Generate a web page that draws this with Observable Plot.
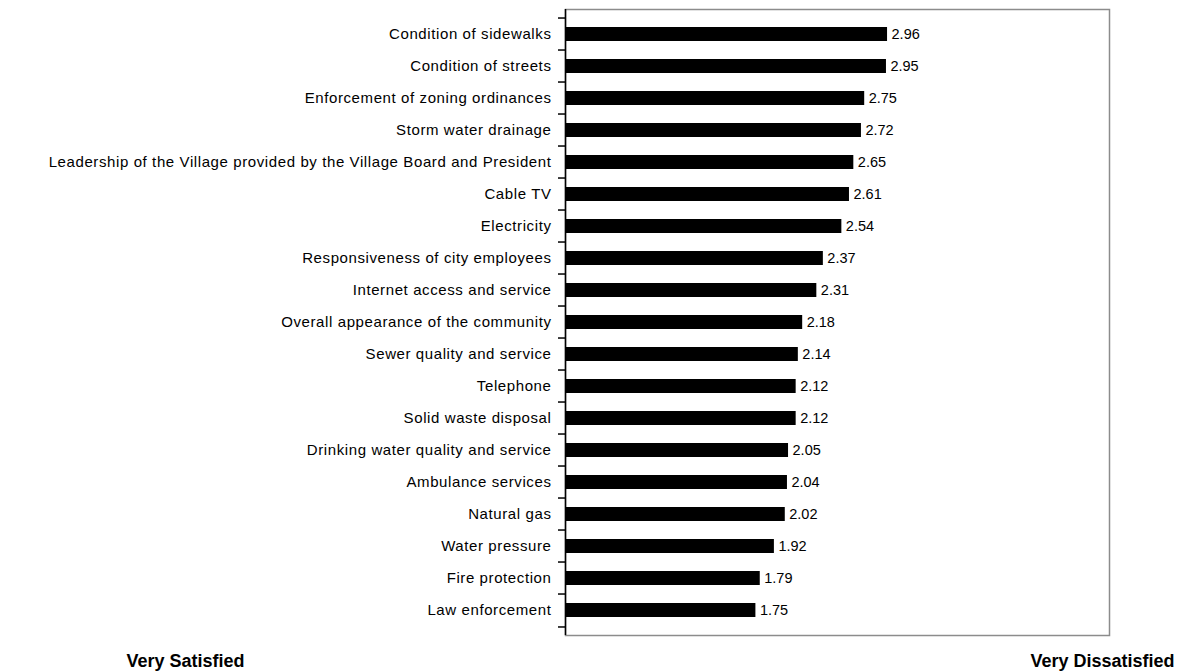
<!DOCTYPE html>
<html>
<head>
<meta charset="utf-8">
<script src="https://cdn.jsdelivr.net/npm/d3@7"></script>
<script src="https://cdn.jsdelivr.net/npm/@observablehq/plot@0.6"></script>
<style>
  html, body { margin: 0; padding: 0; background: #fff; }
  #chart svg { display: block; }
  #chart svg g[aria-label="y-axis tick label"] text { letter-spacing: 0.6px; }
</style>
</head>
<body>
<div id="chart"></div>
<script>
const categories = [
  "Condition of sidewalks",
  "Condition of streets",
  "Enforcement of zoning ordinances",
  "Storm water drainage",
  "Leadership of the Village provided by the Village Board and President",
  "Cable TV",
  "Electricity",
  "Responsiveness of city employees",
  "Internet access and service",
  "Overall appearance of the community",
  "Sewer quality and service",
  "Telephone",
  "Solid waste disposal",
  "Drinking water quality and service",
  "Ambulance services",
  "Natural gas",
  "Water pressure",
  "Fire protection",
  "Law enforcement"
];
const scores = [2.96, 2.95, 2.75, 2.72, 2.65, 2.61, 2.54, 2.37, 2.31, 2.18, 2.14, 2.12, 2.12, 2.05, 2.04, 2.02, 1.92, 1.79, 1.75];
const endLabels = ["Very Satisfied", "Very Dissatisfied"];

const data = categories.map((c, i) => ({category: c, score: scores[i]}));

const W = 1184, H = 672;
const mTop = 9, mBottom = 37, mLeft = 565, mRight = 75;
const half = (H - mTop - mBottom) / categories.length / 2;
const font = "Liberation Sans, Arial, sans-serif";

const chart = Plot.plot({
  width: W,
  height: H,
  marginTop: mTop,
  marginBottom: mBottom,
  marginLeft: mLeft,
  marginRight: mRight,
  style: {fontFamily: font, fontSize: "15px", color: "#000", background: "#fff"},
  x: {domain: [0, 5], axis: null},
  y: {domain: categories, padding: 0, axis: null, label: null},
  marks: [
    Plot.frame({stroke: "#8c8c8c", strokeWidth: 1.5}),
    Plot.barX(data, {x: "score", y: "category", fill: "#000", insetTop: 9, insetBottom: 9}),
    Plot.text(data, {x: "score", y: "category", text: d => d.score.toFixed(2), textAnchor: "start", dx: 4, fontSize: 14.5, fill: "#000"}),
    Plot.ruleX([0], {stroke: "#000", strokeWidth: 1.5}),
    Plot.axisY({tickSize: 0, tickPadding: 14, fontSize: 15, fill: "#000", label: null}),
    Plot.axisY({tickSize: 7, text: null, label: null, dy: -half, stroke: "#000", strokeWidth: 1.5}),
    Plot.axisY([categories[categories.length - 1]], {tickSize: 7, text: null, label: null, dy: half, stroke: "#000", strokeWidth: 1.5}),
    Plot.text([endLabels[0]], {frameAnchor: "bottom", text: d => d, dx: -652, dy: 26, lineAnchor: "middle", fontSize: 18, fontWeight: "bold", fill: "#000"}),
    Plot.text([endLabels[1]], {frameAnchor: "bottom", text: d => d, dx: 265, dy: 26, lineAnchor: "middle", fontSize: 18, fontWeight: "bold", fill: "#000"})
  ]
});
document.getElementById("chart").appendChild(chart);
</script>
</body>
</html>
